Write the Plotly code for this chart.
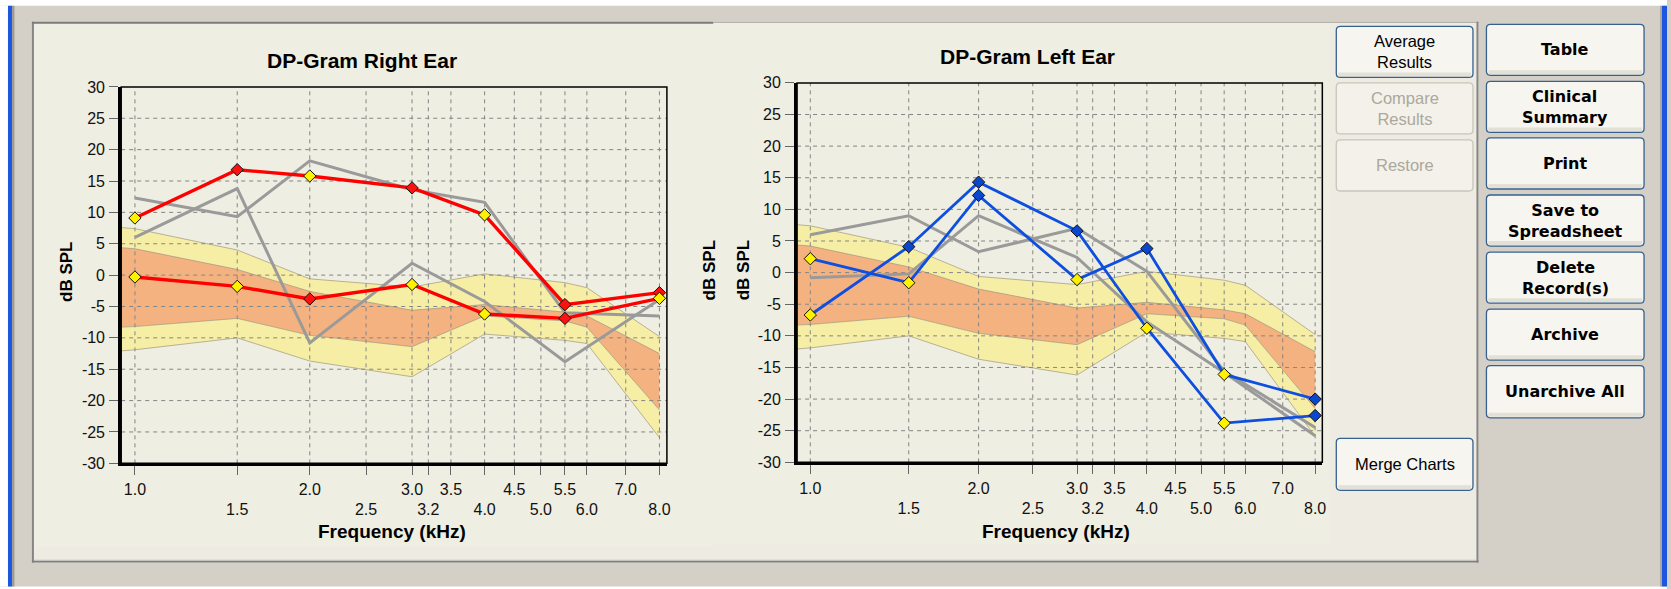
import math
import plotly.graph_objects as go

W, H = 1671, 589

# ---------------- data ----------------
FREQ_KHZ = [1.0, 1.5, 2.0, 3.0, 4.0, 5.5, 8.0]

# Right ear: two current tests (dB SPL) + whether each point met the criterion
RIGHT_TEST_1 = [9.1, 16.8, 15.8, 13.9, 9.6, -4.7, -2.8]
RIGHT_TEST_1_MET = [False, True, False, True, False, True, True]
RIGHT_TEST_2 = [-0.3, -1.8, -3.8, -1.5, -6.2, -6.9, -3.7]
RIGHT_TEST_2_MET = [False, False, True, False, False, True, False]
# Right ear: archived tests
RIGHT_PRIOR_1 = [12.3, 9.3, 18.2, 13.6, 11.6, -6.0, -6.5]
RIGHT_PRIOR_2 = [6.0, 13.8, -10.8, 1.9, -4.2, -13.8, -3.9]

# Left ear
LEFT_TEST_1 = [2.2, -1.6, 12.2, -1.1, 3.8, -16.1, -20.0]
LEFT_TEST_1_MET = [False, False, True, False, True, False, True]
LEFT_TEST_2 = [-6.7, 4.1, 14.3, 6.6, -8.8, -23.8, -22.6]
LEFT_TEST_2_MET = [False, True, True, True, False, False, True]
LEFT_PRIOR_1 = [6.0, 9.0, 3.3, 7.0, 0.2, -15.6, -24.5]
LEFT_PRIOR_2 = [-0.8, -0.2, 9.0, 2.4, -7.8, -15.8, -25.8]

# Normative region (same for both ears)
NORM_FREQ = [0.94, 1.0, 1.5, 2.0, 3.0, 4.0, 5.5, 6.0, 8.0]
NORM_P95 = [7.6, 7.4, 4.0, -0.6, -1.9, 0.2, -1.2, -2.0, -9.8]
NORM_UPPER = [4.4, 4.2, 0.9, -2.6, -5.6, -4.7, -5.9, -6.5, -12.5]
NORM_LOWER = [-8.3, -8.2, -6.9, -9.6, -11.4, -6.5, -7.3, -8.3, -21.5]
NORM_P05 = [-12.1, -11.9, -10.0, -13.7, -16.2, -9.4, -10.4, -10.9, -25.9]

X_TICKS_ROW1 = [1.0, 2.0, 3.0, 3.5, 4.5, 5.5, 7.0]
X_TICKS_ROW2 = [1.5, 2.5, 3.2, 4.0, 5.0, 6.0, 8.0]
Y_TICKS = [-30, -25, -20, -15, -10, -5, 0, 5, 10, 15, 20, 25, 30]

# ---------------- styling ----------------
F_MIN, F_MAX = 0.947, 8.24
XR = [math.log10(F_MIN), math.log10(F_MAX)]
YR = [-30, 30]

GREY_BG = "#D4D0C8"
PANEL = "#EDEBE2"
CHART_BG = "#EEEEE2"
YELLOW_BAND = "#F7EEA6"
ORANGE_BAND = "#F5B281"
BAND_EDGE = "rgba(150,145,120,0.65)"
GRID = "#858585"
PRIOR = "#9A9A9A"
RED = "#FF0000"
BLUE = "#0E4FDF"
MARK_FAIL = "#FFF200"
MARK_RED = "#FF1010"
MARK_BLUE = "#0A47CF"
FONT = "Liberation Sans"

# vertical placement of the figure on the page
PAGE_TOP, PAGE_SCALE = 8.2, 0.97


def X(px):
    return px / W


def Y(py):
    return 1 - (py - PAGE_TOP) / PAGE_SCALE / H


fig = go.Figure()


def add_chart(xref, yref, tests, priors, line_color, line_width, pass_color):
    kw = dict(xaxis=xref, yaxis=yref, showlegend=False, hoverinfo="skip")

    # normative band
    fig.add_trace(go.Scatter(x=NORM_FREQ, y=NORM_P95, mode="lines",
                             line=dict(color=BAND_EDGE, width=1), **kw))
    fig.add_trace(go.Scatter(x=NORM_FREQ, y=NORM_UPPER, mode="lines", fill="tonexty",
                             fillcolor=YELLOW_BAND, line=dict(color=BAND_EDGE, width=1), **kw))
    fig.add_trace(go.Scatter(x=NORM_FREQ, y=NORM_LOWER, mode="lines", fill="tonexty",
                             fillcolor=ORANGE_BAND, line=dict(color=BAND_EDGE, width=1), **kw))
    fig.add_trace(go.Scatter(x=NORM_FREQ, y=NORM_P05, mode="lines", fill="tonexty",
                             fillcolor=YELLOW_BAND, line=dict(color=BAND_EDGE, width=1), **kw))

    # dashed grid drawn over the band
    gx, gy = [], []
    for f in sorted(X_TICKS_ROW1 + X_TICKS_ROW2):
        gx += [f, f, None]
        gy += [YR[0], YR[1], None]
    for v in Y_TICKS[1:-1]:
        gx += [F_MIN, F_MAX, None]
        gy += [v, v, None]
    fig.add_trace(go.Scatter(x=gx, y=gy, mode="lines",
                             line=dict(color=GRID, width=1, dash="4px,4px"), **kw))

    # archived tests
    for p in priors:
        fig.add_trace(go.Scatter(x=FREQ_KHZ, y=p, mode="lines",
                                 line=dict(color=PRIOR, width=3), **kw))
    # current tests
    for vals, met in tests:
        fig.add_trace(go.Scatter(x=FREQ_KHZ, y=vals, mode="lines",
                                 line=dict(color=line_color, width=line_width), **kw))
    for vals, met in tests:
        fig.add_trace(go.Scatter(
            x=FREQ_KHZ, y=vals, mode="markers",
            marker=dict(symbol="diamond", size=9.5,
                        color=[pass_color if m else MARK_FAIL for m in met],
                        line=dict(color="#101010", width=1)),
            cliponaxis=False, **kw))


add_chart("x", "y",
          [(RIGHT_TEST_1, RIGHT_TEST_1_MET), (RIGHT_TEST_2, RIGHT_TEST_2_MET)],
          [RIGHT_PRIOR_1, RIGHT_PRIOR_2], RED, 3.4, MARK_RED)
add_chart("x2", "y2",
          [(LEFT_TEST_1, LEFT_TEST_1_MET), (LEFT_TEST_2, LEFT_TEST_2_MET)],
          [LEFT_PRIOR_1, LEFT_PRIOR_2], BLUE, 2.8, MARK_BLUE)

ALL_X = sorted(X_TICKS_ROW1 + X_TICKS_ROW2)
tickfont = dict(family=FONT, size=16, color="#111111")


def x_label(v):
    # staggered two-row labels
    return f"{v:.1f}" if v in X_TICKS_ROW1 else f"<br>{v:.1f}"


def main_xaxis(domain, anchor):
    return dict(domain=domain, anchor=anchor, type="log", range=XR, tickvals=ALL_X,
                ticktext=[x_label(v) for v in ALL_X], tickangle=0,
                ticks="outside", ticklen=9, tickwidth=1, tickcolor="#666666",
                showline=True, linewidth=3, linecolor="#000000",
                showgrid=False, zeroline=False, tickfont=tickfont,
                ticklabelstandoff=0, fixedrange=True)


def main_yaxis(domain, anchor):
    return dict(domain=domain, anchor=anchor, range=YR, tickvals=Y_TICKS,
                ticktext=[str(v) for v in Y_TICKS],
                ticks="outside", ticklen=9, tickwidth=1, tickcolor="#666666",
                showline=True, linewidth=3, linecolor="#000000",
                showgrid=False, zeroline=False, tickfont=tickfont,
                ticklabelstandoff=1, fixedrange=True)


L_X = [X(121.5), X(668.5)]
L_Y = [Y(463), Y(87)]
R_X = [X(799), X(1325.5)]
R_Y = [Y(462), Y(83)]

# ---------------- window chrome ----------------
shapes = []


def rect(x0, y0, x1, y1, fill, layer="below"):
    shapes.append(dict(type="rect", xref="paper", yref="paper",
                       x0=X(x0), x1=X(x1), y0=Y(y1), y1=Y(y0),
                       fillcolor=fill, line=dict(width=0), layer=layer))


def hline(x0, x1, y, color, width):
    shapes.append(dict(type="line", xref="paper", yref="paper",
                       x0=X(x0), x1=X(x1), y0=Y(y), y1=Y(y),
                       line=dict(color=color, width=width), layer="below"))


def vline(x, y0, y1, color, width):
    shapes.append(dict(type="line", xref="paper", yref="paper",
                       x0=X(x), x1=X(x), y0=Y(y0), y1=Y(y1),
                       line=dict(color=color, width=width), layer="below"))


def rrect_path(x0, y0, x1, y1, r):
    return (f"M{X(x0 + r)},{Y(y0)} L{X(x1 - r)},{Y(y0)} Q{X(x1)},{Y(y0)} {X(x1)},{Y(y0 + r)} "
            f"L{X(x1)},{Y(y1 - r)} Q{X(x1)},{Y(y1)} {X(x1 - r)},{Y(y1)} "
            f"L{X(x0 + r)},{Y(y1)} Q{X(x0)},{Y(y1)} {X(x0)},{Y(y1 - r)} "
            f"L{X(x0)},{Y(y0 + r)} Q{X(x0)},{Y(y0)} {X(x0 + r)},{Y(y0)} Z")


# window frame strips
rect(0, -20, W, 6, "#FFFFFF")
rect(0, 586, W, 610, "#FFFFFF")
rect(0, 6, 8, 586, "#FFFFFF")
rect(8, 6, 12, 586, "#1B55E0")
rect(12, 6, 14.5, 586, "#9E9C96")
rect(1664, 6, 1666, 586, "#A9A7A0")
rect(1666, 6, W, 586, "#1B55E0")

# main panel and the two chart controls
rect(32, 22, 1482, 562, PANEL)
rect(33, 23, 715, 547, CHART_BG)
rect(715, 23, 1333, 544, CHART_BG)
vline(33, 22, 562, "#858585", 2)
hline(32, 715, 23, "#7A7A7A", 2)
hline(715, 1482, 22.5, "#A8A69F", 1)
vline(1481, 22, 562, "#858585", 2)
hline(32, 1482, 561, "#7E7E7E", 2)
hline(34, 1480, 559.5, "#D8D6CE", 1)

# thin frame on the top/right of each plot area
for xr_, yr_ in (("x", "y"), ("x2", "y2")):
    shapes.append(dict(type="rect", xref=f"{xr_} domain", yref=f"{yr_} domain",
                       x0=0, x1=1, y0=0, y1=1, line=dict(color="#000000", width=1.5),
                       fillcolor="rgba(0,0,0,0)", layer="above"))

annotations = []

BUTTONS_LEFT = [("Average<br>Results", 26.5, 77.5, True),
                ("Compare<br>Results", 83, 134, False),
                ("Restore", 140, 191, False),
                ("Merge Charts", 438, 490, True)]
BUTTONS_RIGHT = [("Table", 24.5, 75.5),
                 ("Clinical<br>Summary", 81.5, 132.5),
                 ("Print", 138, 189),
                 ("Save to<br>Spreadsheet", 195, 246),
                 ("Delete<br>Record(s)", 252, 303),
                 ("Archive", 309, 360),
                 ("Unarchive All", 365.5, 417.5)]


def button(label, x0, x1, y0, y1, enabled, bold):
    fill = "#F6F5F0" if enabled else "#F3F1EA"
    edge = "#36618F" if enabled else "#C8C6BA"
    shapes.append(dict(type="path", xref="paper", yref="paper",
                       path=rrect_path(x0, y0, x1, y1, 4), fillcolor=fill,
                       line=dict(width=0), layer="below"))
    if enabled:
        rect(x0 + 2, y1 - 5, x1 - 2, y1 - 1, "#E3E0D5")
    shapes.append(dict(type="path", xref="paper", yref="paper",
                       path=rrect_path(x0, y0, x1, y1, 4), fillcolor="rgba(0,0,0,0)",
                       line=dict(color=edge, width=1.3), layer="below"))
    if bold:
        font = dict(family="DejaVu Sans", size=16, color="#000000")
        text = f"<b>{label}</b>"
    else:
        font = dict(family=FONT, size=16.5, color="#000000" if enabled else "#ABA89C")
        text = label
    annotations.append(dict(xref="paper", yref="paper", x=X((x0 + x1) / 2),
                            y=Y((y0 + y1) / 2), text=text, showarrow=False,
                            xanchor="center", yanchor="middle", font=font))


for lab, y0, y1, en in BUTTONS_LEFT:
    button(lab, 1339.5, 1476.5, y0, y1, en, False)
for lab, y0, y1 in BUTTONS_RIGHT:
    button(lab, 1490, 1648, y0, y1, True, True)


def text(px, py, s, size, bold=True, angle=0):
    annotations.append(dict(xref="paper", yref="paper", x=X(px), y=Y(py),
                            text=f"<b>{s}</b>" if bold else s, showarrow=False,
                            xanchor="center", yanchor="middle", textangle=angle,
                            font=dict(family=FONT, size=size, color="#000000")))


text(363, 60.5, "DP-Gram Right Ear", 21)
text(1030, 56.5, "DP-Gram Left Ear", 21)
text(393, 531.5, "Frequency (kHz)", 19)
text(1059, 531, "Frequency (kHz)", 19)
text(66, 272, "dB SPL", 17, angle=-90)
text(745, 270, "dB SPL", 17, angle=-90)
text(711, 270, "dB SPL", 17, angle=-90)

fig.update_layout(
    width=W, height=H, autosize=False, margin=dict(l=0, r=0, t=0, b=0),
    paper_bgcolor=GREY_BG, plot_bgcolor="rgba(0,0,0,0)",
    showlegend=False, hovermode=False,
    xaxis=main_xaxis(L_X, "y"),
    yaxis=main_yaxis(L_Y, "x"),
    xaxis2=main_xaxis(R_X, "y2"),
    yaxis2=main_yaxis(R_Y, "x2"),
    shapes=shapes, annotations=annotations,
)

fig.write_html("out.html", config={"displayModeBar": False})
